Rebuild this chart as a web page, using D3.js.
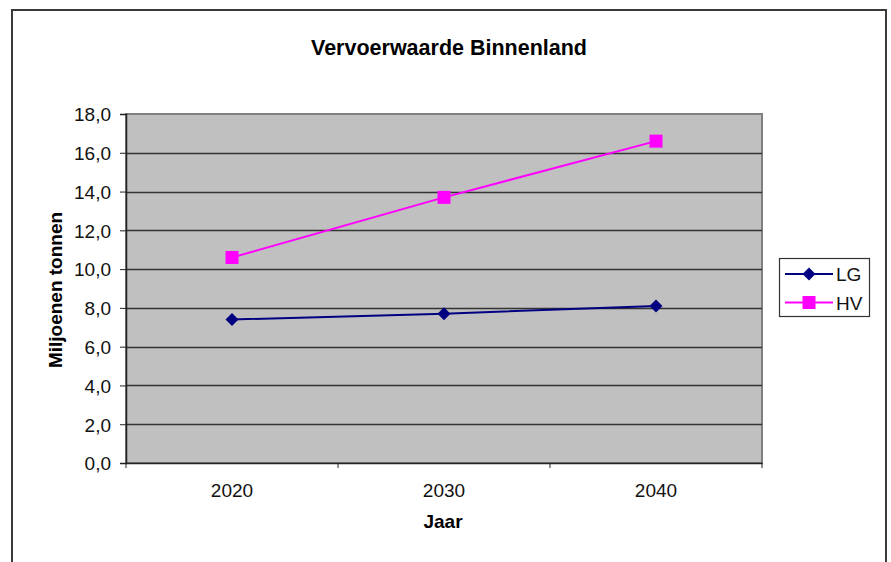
<!DOCTYPE html>
<html>
<head>
<meta charset="utf-8">
<script src="https://cdn.jsdelivr.net/npm/d3@7"></script>
<style>
  html, body { margin: 0; padding: 0; background: #fff; }
  svg { display: block; font-family: "Liberation Sans", Arial, sans-serif; }
</style>
</head>
<body>
<svg id="chart" width="891" height="562"></svg>
<script>
const title = "Vervoerwaarde Binnenland";
const xTitle = "Jaar";
const yTitle = "Miljoenen tonnen";
const categories = ["2020", "2030", "2040"];
const seriesNames = ["LG", "HV"];
const lgValues = [7.4, 7.7, 8.1];
const hvValues = [10.6, 13.7, 16.6];
const yTicks = [0, 2, 4, 6, 8, 10, 12, 14, 16, 18];

const colors = { LG: "#000080", HV: "#FF00FF" };
const series = [
  { name: seriesNames[0], values: lgValues, shape: "diamond" },
  { name: seriesNames[1], values: hvValues, shape: "square" }
];

const svg = d3.select("#chart");
const plot = { left: 126, top: 114, right: 762, bottom: 463 };
const fs = 19;

// outer frame
svg.append("rect").attr("x", 12).attr("y", 10).attr("width", 874).attr("height", 570)
  .attr("fill", "#fff").attr("stroke", "#3a3a3a").attr("stroke-width", 2);

const x = d3.scaleBand().domain(categories).range([plot.left, plot.right]).padding(0);
const y = d3.scaleLinear().domain([0, 18]).range([plot.bottom, plot.top]);

// plot background
svg.append("rect").attr("x", plot.left).attr("y", plot.top)
  .attr("width", plot.right - plot.left).attr("height", plot.bottom - plot.top)
  .attr("fill", "#C0C0C0").attr("stroke", "#808080").attr("stroke-width", 2);

// gridlines
svg.append("g").selectAll("line").data(yTicks.filter(d => d > 0 && d < 18)).join("line")
  .attr("x1", plot.left).attr("x2", plot.right)
  .attr("y1", d => Math.round(y(d)) + 0.5).attr("y2", d => Math.round(y(d)) + 0.5)
  .attr("stroke", "#333").attr("stroke-width", 1.5);

// y axis
const yAxis = d3.axisLeft(y).tickValues(yTicks).tickSize(6).tickPadding(9)
  .tickFormat(d => d3.format(".1f")(d).replace(".", ","));
const gy = svg.append("g").attr("transform", `translate(${plot.left},0)`).call(yAxis);
gy.attr("font-family", null).attr("font-size", null);
gy.select(".domain").attr("stroke", "#222").attr("stroke-width", 1.5);
gy.selectAll(".tick line").attr("stroke", "#222");
gy.selectAll("text").attr("font-size", fs).attr("fill", "#111").attr("dy", "0.36em");

// x axis
const xAxis = d3.axisBottom(x).tickSize(0);
const gx = svg.append("g").attr("transform", `translate(0,${plot.bottom})`).call(xAxis);
gx.attr("font-family", null).attr("font-size", null);
gx.select(".domain").attr("stroke", "#222").attr("stroke-width", 1.5);
gx.selectAll("text").attr("font-size", fs).attr("fill", "#111").attr("y", 34).attr("dy", 0);
// tick marks at category boundaries
const bounds = categories.map(c => x(c)).concat([x(categories[categories.length - 1]) + x.bandwidth()]);
gx.append("g").selectAll("line").data(bounds).join("line")
  .attr("x1", d => d).attr("x2", d => d).attr("y1", 0).attr("y2", 5)
  .attr("stroke", "#222");

// titles
svg.append("text").attr("x", 449).attr("y", 55).attr("text-anchor", "middle")
  .attr("font-size", 21.5).attr("font-weight", "bold").attr("fill", "#000").text(title);
svg.append("text").attr("x", 443).attr("y", 528).attr("text-anchor", "middle")
  .attr("font-size", fs).attr("font-weight", "bold").attr("fill", "#000").text(xTitle);
svg.append("text").attr("transform", "translate(62,290) rotate(-90)").attr("text-anchor", "middle")
  .attr("font-size", fs).attr("font-weight", "bold").attr("fill", "#000").text(yTitle);

const cx = c => x(c) + x.bandwidth() / 2;
function drawMarker(g, shape, color, px, py) {
  if (shape === "square") {
    g.append("rect").attr("x", px - 6.5).attr("y", py - 6.5).attr("width", 13).attr("height", 13)
      .attr("fill", color);
  } else {
    g.append("path").attr("d", `M${px},${py - 6.5}L${px + 6.5},${py}L${px},${py + 6.5}L${px - 6.5},${py}Z`)
      .attr("fill", color);
  }
}

const line = d3.line().x((d, i) => cx(categories[i])).y(d => y(d));
series.forEach(s => {
  const g = svg.append("g");
  g.append("path").datum(s.values).attr("d", line).attr("fill", "none")
    .attr("stroke", colors[s.name]).attr("stroke-width", 2);
  s.values.forEach((v, i) => drawMarker(g, s.shape, colors[s.name], cx(categories[i]), y(v)));
});

// legend
const lg = svg.append("g");
lg.append("rect").attr("x", 779.5).attr("y", 258.5).attr("width", 90).attr("height", 58)
  .attr("fill", "#fff").attr("stroke", "#333").attr("stroke-width", 1.2);
series.forEach((s, i) => {
  const ly = 274 + i * 28.5;
  lg.append("line").attr("x1", 785).attr("x2", 833).attr("y1", ly).attr("y2", ly)
    .attr("stroke", colors[s.name]).attr("stroke-width", 2);
  drawMarker(lg, s.shape, colors[s.name], 809, ly);
  lg.append("text").attr("x", 836).attr("y", ly + 7).attr("font-size", fs).attr("fill", "#111").text(s.name);
});
</script>
</body>
</html>
